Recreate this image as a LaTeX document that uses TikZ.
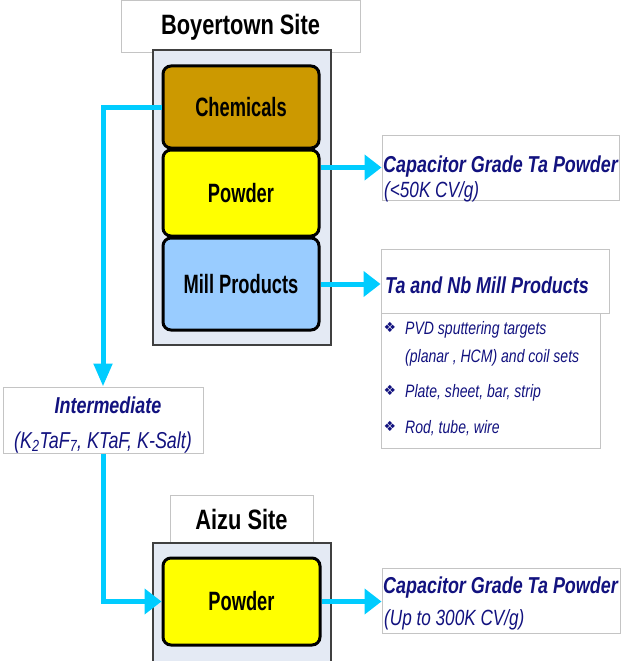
\documentclass[tikz,border=0pt]{standalone}
\usepackage{fontspec}
\setmainfont{Liberation Sans}[FakeStretch=0.78]
\newfontfamily\narrowf{Liberation Sans}[FakeStretch=0.69]
\newfontfamily\symf{DejaVu Sans}
\usetikzlibrary{arrows.meta}
\definecolor{cy}{HTML}{00CCFF}
\definecolor{navy}{HTML}{12127F}
\definecolor{contfill}{HTML}{E4EAF4}
\definecolor{chemfill}{HTML}{CC9900}
\definecolor{powfill}{HTML}{FFFF00}
\definecolor{millfill}{HTML}{99CCFF}
\definecolor{lgray}{HTML}{C4C4C4}
\begin{document}
\begin{tikzpicture}[x=1pt,y=-1pt,
  titlebox/.style={draw=lgray, fill=white, line width=1pt, inner sep=0pt,
    font=\fontsize{28}{30}\selectfont\bfseries},
  cont/.style={draw=black!75, fill=contfill, line width=1.2pt, inner sep=0pt},
  proc/.style={draw=black, line width=3pt, rounded corners=8pt, inner sep=0pt,
    font=\narrowf\fontsize{26.5}{28}\selectfont\bfseries},
  outbox/.style={draw=lgray, fill=white, line width=1pt, inner sep=0pt},
  head/.style={text=navy, inner sep=0pt, font=\fontsize{23}{25}\selectfont\bfseries\itshape},
  sub/.style={text=navy, inner sep=0pt, font=\fontsize{22}{24}\selectfont\itshape},
  item/.style={text=navy, inner sep=0pt, anchor=base west, font=\fontsize{18}{20}\selectfont\itshape},
  bul/.style={text=navy, inner sep=0pt, anchor=base, font=\symf\fontsize{14}{15}\selectfont},
  flow/.style={draw=cy, line width=5pt, -{Triangle[length=17pt,width=25pt,fill=cy]}},
  downflow/.style={draw=cy, line width=5pt, -{Triangle[length=23pt,width=18pt,fill=cy]}}
]
\useasboundingbox (0,0) rectangle (626,661);
\clip (0,0) rectangle (626,661);

% Boyertown site
\node[titlebox, minimum width=239pt, minimum height=52pt] (btitle) at (240.5,27) {Boyertown Site};
\node[cont, minimum width=178pt, minimum height=295pt] (bcont) at (242,197.5) {};
\node[proc, fill=chemfill, minimum width=156pt, minimum height=82pt] (chem) at (241,107) {Chemicals};
\node[proc, fill=powfill, minimum width=156pt, minimum height=86pt] (pow1) at (241,193) {Powder};
\node[proc, fill=millfill, minimum width=156pt, minimum height=92pt] (mill) at (241,284) {Mill Products};

% Aizu site
\node[titlebox, minimum width=143pt, minimum height=48pt] (atitle) at (241.5,519) {Aizu Site};
\node[cont, minimum width=178pt, minimum height=124pt] (acont) at (242,605) {};
\node[proc, fill=powfill, minimum width=157pt, minimum height=87pt] (pow2) at (241.5,601.5) {Powder};

% Intermediate
\node[outbox, minimum width=200pt, minimum height=66pt] (inter) at (103,420) {};
\node[head, anchor=base] (intert) at (108,413) {Intermediate};
\node[sub, anchor=base, font=\fontsize{23}{25}\selectfont\itshape] (interf) at (103,448)
  {(K\textsubscript{2}TaF\textsubscript{7}, KTaF, K-Salt)};

% Outputs
\node[outbox, minimum width=237pt, minimum height=65pt] (cap1) at (500.5,167.5) {};
\node[head, anchor=base west] (cap1a) at (383,172) {Capacitor Grade Ta Powder};
\node[sub, anchor=base west] (cap1b) at (384,197) {(<50K CV/g)};

\node[outbox, minimum width=219pt, minimum height=135pt] (list) at (490.5,380.5) {};
\node[outbox, minimum width=228pt, minimum height=64pt] (tanb) at (495,281) {};
\node[head, anchor=base west] (tanbt) at (385,293) {Ta and Nb Mill Products};
\node[bul] (b1) at (390,332) {❖};
\node[item] (i1) at (405,334) {PVD sputtering targets};
\node[item] (i1b) at (405,362) {(planar , HCM) and coil sets};
\node[bul] (b2) at (390,395) {❖};
\node[item] (i2) at (405,397) {Plate, sheet, bar, strip};
\node[bul] (b3) at (390,431) {❖};
\node[item] (i3) at (405,433) {Rod, tube, wire};

\node[outbox, minimum width=238pt, minimum height=65pt] (cap2) at (501,600.5) {};
\node[head, anchor=base west] (cap2a) at (383,593) {Capacitor Grade Ta Powder};
\node[sub, anchor=base west] (cap2b) at (384,625) {(Up to 300K CV/g)};

% Connectors
\draw[downflow] (chem.west) -| (inter.north);
\draw[flow] (inter.south) |- (pow2.west);
\draw[flow] (pow1.east |- cap1.west) -- (cap1.west);
\draw[flow] (mill.east) -- (mill.east -| tanb.west);
\draw[flow] (pow2.east) -- (pow2.east -| cap2.west);
\end{tikzpicture}
\end{document}
